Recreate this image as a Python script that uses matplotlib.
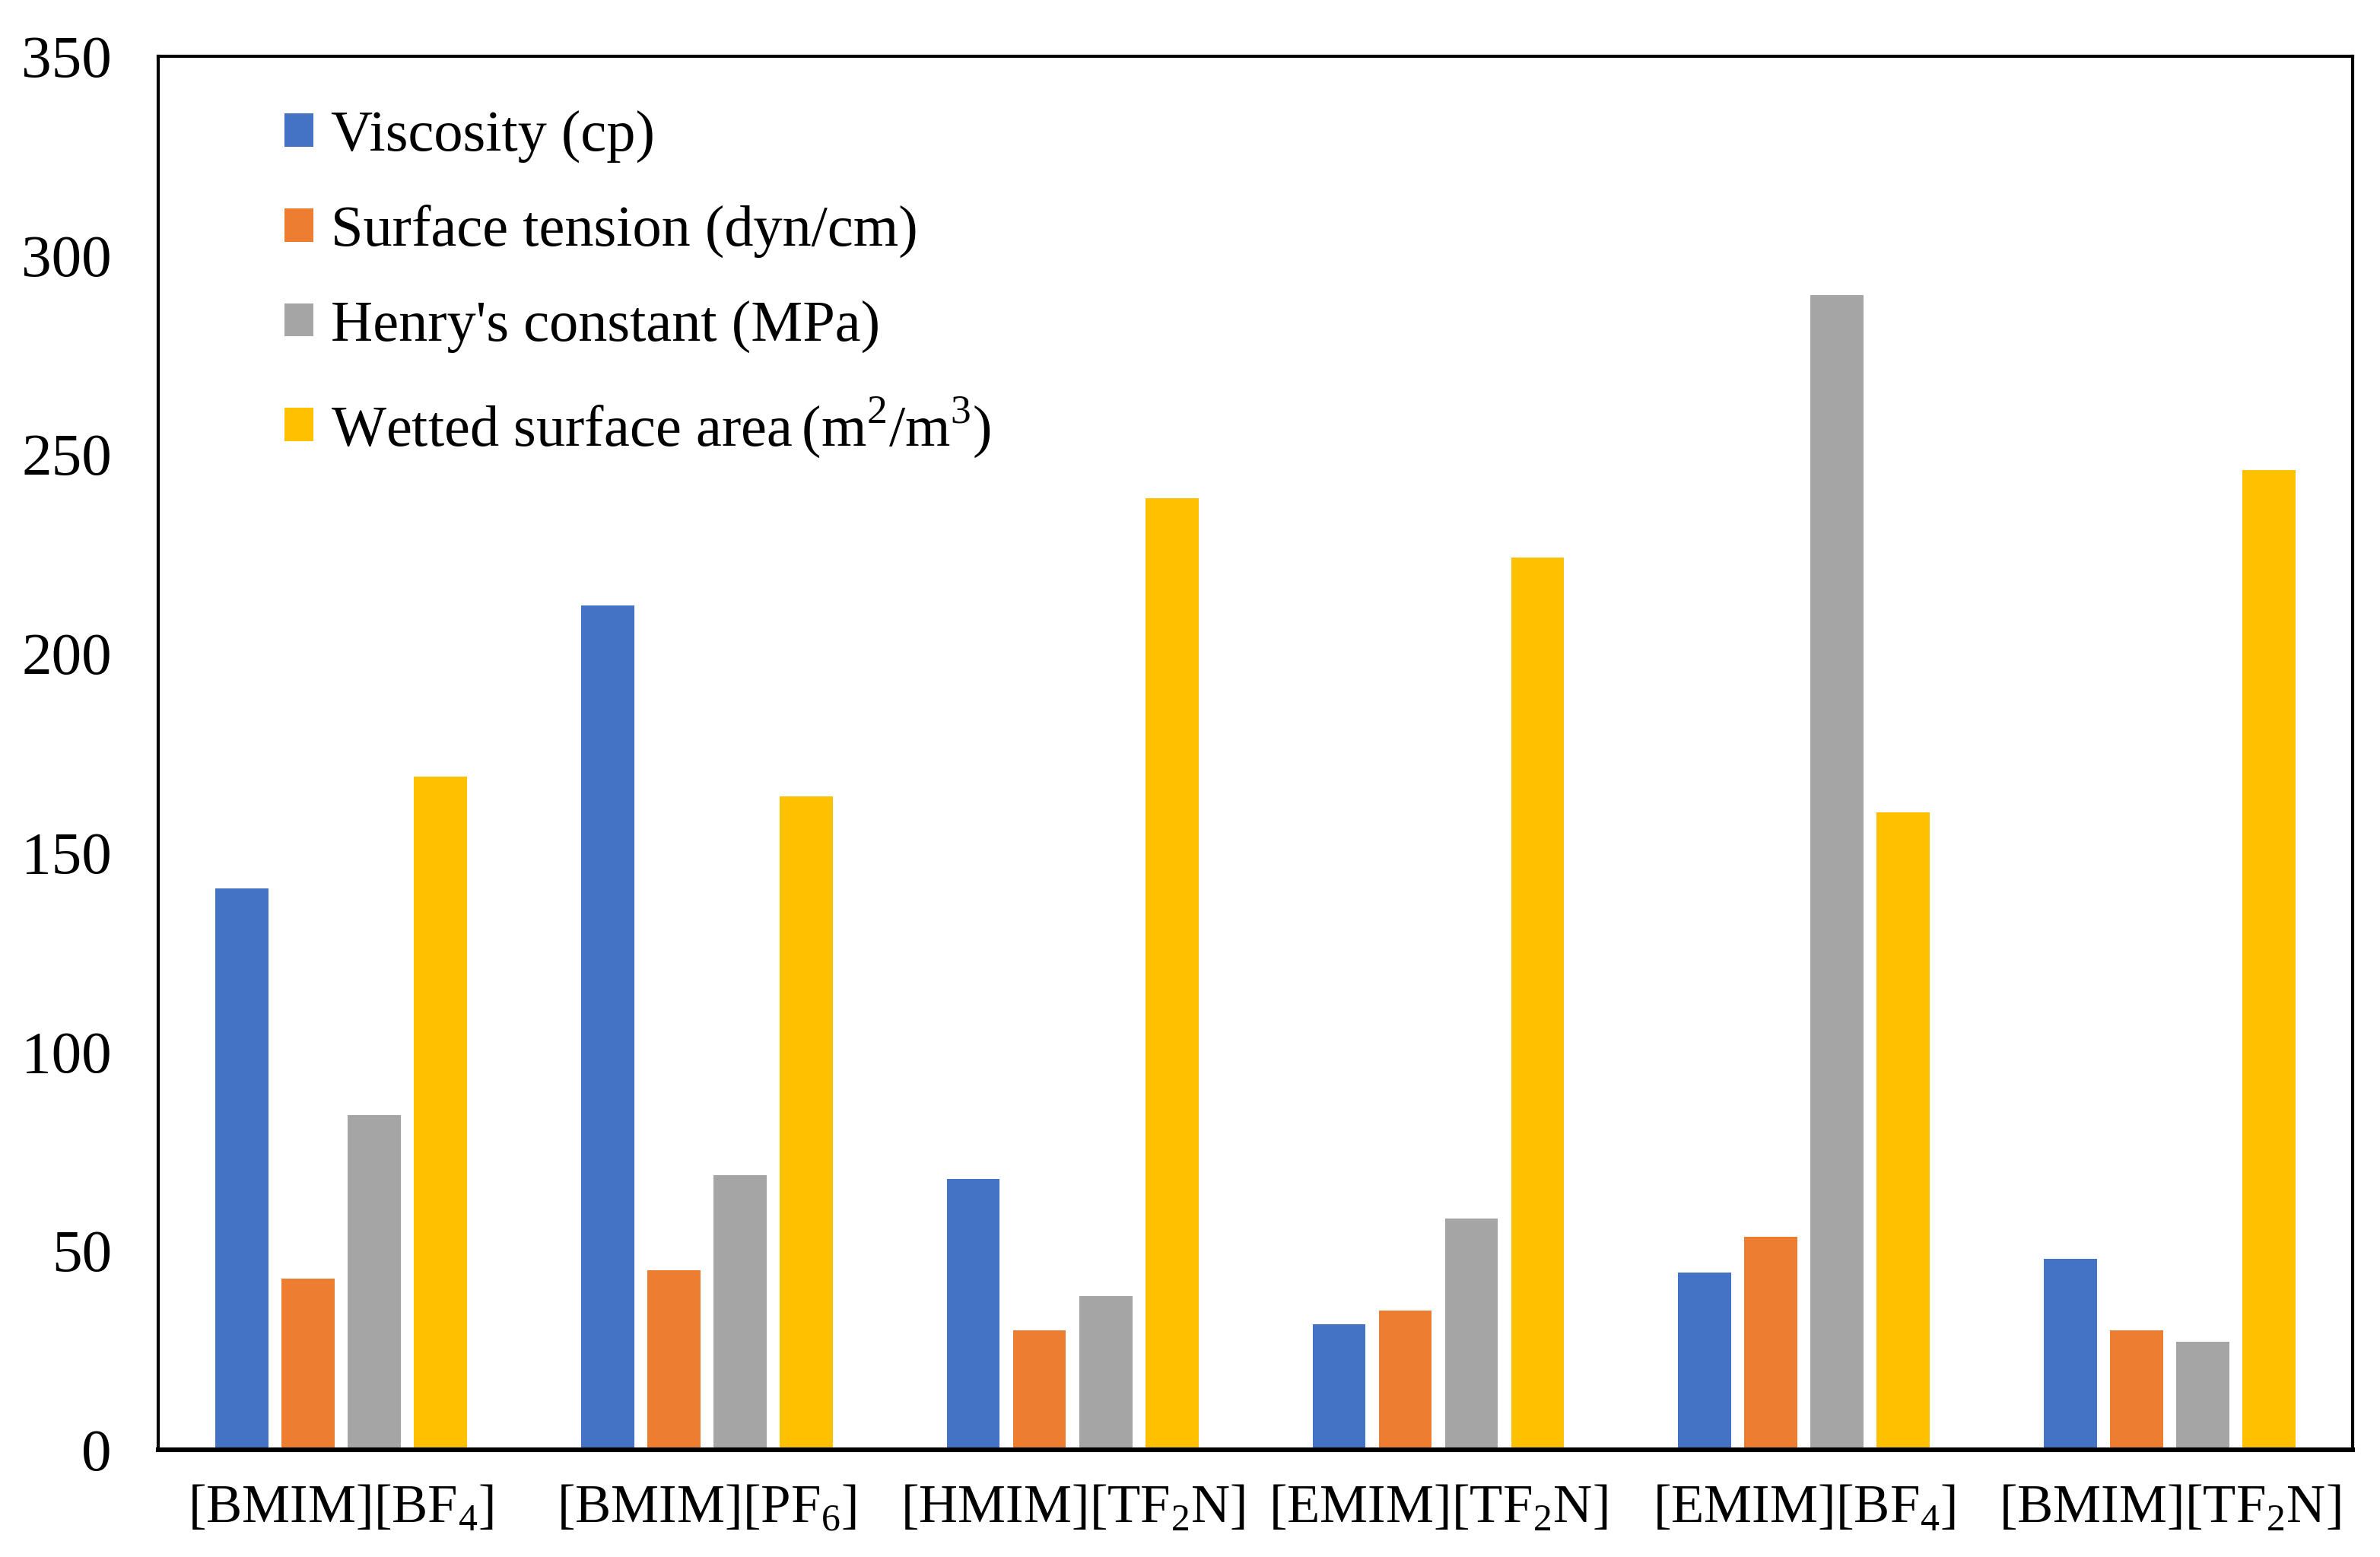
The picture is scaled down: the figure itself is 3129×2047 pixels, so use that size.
import numpy as np
import matplotlib
matplotlib.use("Agg")
import matplotlib.pyplot as plt

plt.rcParams["font.family"] = ["Liberation Serif", "DejaVu Serif"]
plt.rcParams["mathtext.fontset"] = "custom"
plt.rcParams["mathtext.rm"] = "Liberation Serif"

# data
liquids = [r"[BMIM][BF$_\mathregular{4}$]", r"[BMIM][PF$_\mathregular{6}$]",
           r"[HMIM][TF$_\mathregular{2}$N]", r"[EMIM][TF$_\mathregular{2}$N]",
           r"[EMIM][BF$_\mathregular{4}$]", r"[BMIM][TF$_\mathregular{2}$N]"]
viscosity = [141, 212, 68, 31.5, 44.5, 48]
surface_tension = [43, 45, 30, 35, 53.5, 30]
henry = [84, 69, 38.5, 58, 290, 27]
wetted_area = [169, 164, 239, 224, 160, 246]

series = [
    ("Viscosity (cp)", viscosity, "#4472C4"),
    ("Surface tension (dyn/cm)", surface_tension, "#ED7D31"),
    ("Henry's constant (MPa)", henry, "#A5A5A5"),
    (r"Wetted surface area$\,$(m$^\mathregular{2}$/m$^\mathregular{3}$)", wetted_area, "#FFC000"),
]

fig = plt.figure(figsize=(15.645, 10.235), dpi=200)
ax = fig.add_axes([0.0665, 0.069, 0.922, 0.895])

x = np.arange(len(liquids))
step, width = 0.181, 0.145
for i, (lab, vals, col) in enumerate(series):
    ax.bar(x + (i - 1.5) * step, vals, width, color=col, label=lab, zorder=2)

ax.set_xlim(-0.5, len(liquids) - 0.5)
ax.set_ylim(0, 350)
ax.set_yticks(range(0, 351, 50))
ax.set_xticks(x)
ax.set_xticklabels(liquids)
ax.tick_params(axis="y", length=0, pad=22, labelsize=28.5)
ax.tick_params(axis="x", length=0, pad=16, labelsize=25.5)
for s in ax.spines.values():
    s.set_linewidth(1.5)
    s.set_color("black")
ax.spines["bottom"].set_linewidth(2.2)

ax.legend(loc="upper left", bbox_to_anchor=(0.0575, 0.961), frameon=False,
          fontsize=27.5, borderpad=0, borderaxespad=0, labelspacing=0.72,
          handlelength=0.5, handleheight=0.5, handletextpad=0.3)

plt.savefig("out.png", dpi=200)
plt.close()
